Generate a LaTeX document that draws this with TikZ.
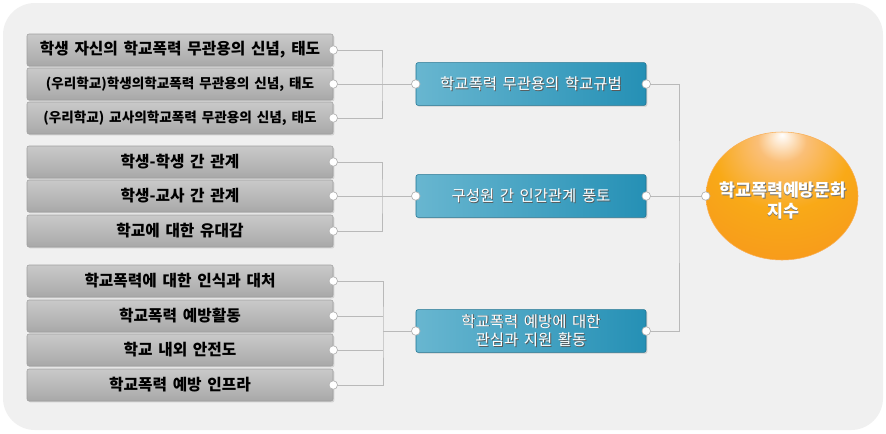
\documentclass[tikz,border=0pt]{standalone}
\usepackage{fontspec}
\setmainfont{Noto Sans CJK KR}[WordSpace=1.6]
\usepackage{tikz}
\usetikzlibrary{calc,shapes.geometric,shadows}

\definecolor{bgpanel}{HTML}{F0F0F0}
\definecolor{boxblue}{HTML}{2590B5}
\definecolor{boxbluelt}{HTML}{68B6D0}
\definecolor{ballorange}{HTML}{F7941D}

\pgfdeclareradialshading{orangeball}{\pgfpoint{0bp}{24bp}}{%
  color(0bp)=(white);
  color(8bp)=(white!40!ballorange);
  color(22bp)=(ballorange!80!yellow);
  color(45bp)=(ballorange);
  color(72bp)=(ballorange!85!black)}

\newcommand{\shtxt}[2][black!65]{\makebox[0pt][l]{\hspace{0.7pt}\raisebox{-0.7pt}{\color{#1}#2}}#2}

\tikzset{
  itembox/.style={draw=gray!75, rounded corners=1.5pt, top color=gray!42, bottom color=gray!68,
    minimum width=229.5pt, minimum height=24pt, inner sep=0pt, font=\bfseries\fontsize{11.8}{13}\selectfont,
    drop shadow={opacity=0.25, shadow xshift=1pt, shadow yshift=-1pt}},
  squeezed/.style={font=\bfseries\fontsize{10.2}{13}\selectfont},
  factorbox/.style={draw=boxblue!80!black, rounded corners=1.5pt, left color=boxbluelt, right color=boxblue,
    minimum width=172.5pt, minimum height=32pt, inner sep=0pt, text=white, align=center,
    font=\fontsize{11.6}{14}\selectfont,
    drop shadow={opacity=0.3, shadow xshift=1pt, shadow yshift=-1pt}},
  link/.style={draw=gray!55, line width=0.6pt},
  dot/.style={fill=white, draw=gray!60, line width=0.5pt}
}

\begin{document}
\begin{tikzpicture}[x=0.75pt, y=-0.75pt]
    \useasboundingbox (0,0) rectangle (886,433);
    \fill[white] (0,0) rectangle (886,433);
    \fill[bgpanel, rounded corners=24pt] (3,3) rectangle (883,430);

    % left items
    \node[itembox] (i1) at (180,50)  {학생 자신의 학교폭력 무관용의 신념, 태도};
    \node[itembox, squeezed] (i2) at (180,84)  {(우리학교)학생의학교폭력 무관용의 신념, 태도};
    \node[itembox, squeezed] (i3) at (180,118) {(우리학교) 교사의학교폭력 무관용의 신념, 태도};
    \node[itembox] (i4) at (180,162) {학생-학생 간 관계};
    \node[itembox] (i5) at (180,196) {학생-교사 간 관계};
    \node[itembox] (i6) at (180,231) {학교에 대한 유대감};
    \node[itembox] (i7) at (180,281) {학교폭력에 대한 인식과 대처};
    \node[itembox] (i8) at (180,316) {학교폭력 예방활동};
    \node[itembox] (i9) at (180,350) {학교 내외 안전도};
    \node[itembox] (i10) at (180,385) {학교폭력 예방 인프라};

    % factors
    \node[factorbox] (f1) at (531,84)  {\shtxt{학교폭력 무관용의 학교규범}};
    \node[factorbox] (f2) at (531,196) {\shtxt{구성원 간 인간관계 풍토}};
    \node[factorbox] (f3) at (531,331) {\shtxt{학교폭력 예방에 대한}\\\shtxt{관심과 지원 활동}};

    % index
    \node[ellipse, shading=orangeball, draw=ballorange!75, line width=0.4pt, minimum width=114pt, minimum height=96pt,
      inner sep=0pt] (idx) at (782,196) {};
    \node[text=white, align=center, font=\bfseries\fontsize{13}{16}\selectfont] (idxtext) at (783,201)
      {\shtxt[black!55]{학교폭력예방문화}\\\shtxt[black!55]{지수}};

    \coordinate (j1) at (382,84);
    \coordinate (j2) at (382,196);
    \coordinate (j3) at (383,331);
    \coordinate (j4) at (679,196);

    \draw[link] (i1.east) -| (j1) |- (i3.east);
    \draw[link] (i2.east) -- (f1.west);
    \draw[link] (i4.east) -| (j2) |- (i6.east);
    \draw[link] (i5.east) -- (f2.west);
    \draw[link] (i7.east) -| (j3) |- (i10.east);
    \draw[link] (i8.east) -- (i8.east -| j3);
    \draw[link] (i9.east) -- (i9.east -| j3);
    \draw[link] (j3) -- (f3.west);
    \draw[link] (f1.east) -| (j4) |- (f3.east);
    \draw[link] (f2.east) -- (idx.west);

    \foreach \n in {i1,i2,i3,i4,i5,i6,i7,i8,i9,i10,f1,f2,f3}
      \draw[dot] (\n.east) circle (3.2pt);
    \foreach \n in {f1,f2,f3,idx}
      \draw[dot] (\n.west) circle (3.2pt);
\end{tikzpicture}
\end{document}
